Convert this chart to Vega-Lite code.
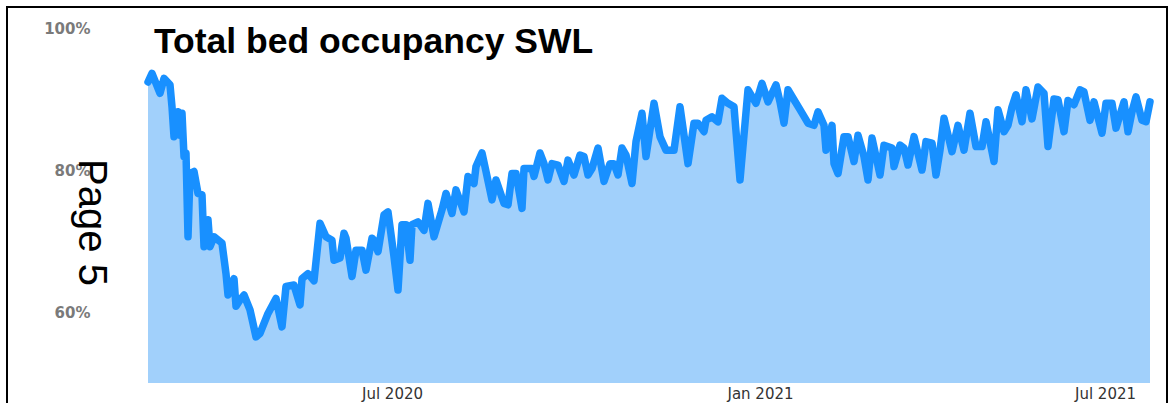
{
  "$schema": "https://vega.github.io/schema/vega-lite/v6.json",
  "width": 1160,
  "height": 406,
  "autosize": {"type": "none"},
  "padding": {"left": 7, "top": 7, "right": 3, "bottom": -10},
  "background": "white",
  "title": {"text": "Total bed occupancy SWL", "anchor": "start", "frame": "group", "dx": 147, "dy": 33, "offset": -48, "baseline": "alphabetic", "font": "Liberation Sans", "fontSize": 35.5, "fontWeight": "bold", "color": "#000000"},
  "config": {"view": {"stroke": "#000000", "strokeWidth": 2}},
  "data": {"values": [
    {"date": "2020-03-01", "pct": 92.4}, {"date": "2020-03-03", "pct": 93.6}, {"date": "2020-03-07", "pct": 90.8}, {"date": "2020-03-09", "pct": 92.9},
    {"date": "2020-03-12", "pct": 92.0}, {"date": "2020-03-13", "pct": 88.9}, {"date": "2020-03-14", "pct": 84.7}, {"date": "2020-03-16", "pct": 88.2},
    {"date": "2020-03-17", "pct": 84.9}, {"date": "2020-03-18", "pct": 88.0}, {"date": "2020-03-19", "pct": 81.9}, {"date": "2020-03-20", "pct": 82.4},
    {"date": "2020-03-21", "pct": 70.6}, {"date": "2020-03-22", "pct": 79.5}, {"date": "2020-03-24", "pct": 79.8}, {"date": "2020-03-26", "pct": 76.7},
    {"date": "2020-03-28", "pct": 76.5}, {"date": "2020-03-29", "pct": 69.2}, {"date": "2020-03-31", "pct": 73.0}, {"date": "2020-04-01", "pct": 69.2},
    {"date": "2020-04-03", "pct": 70.6}, {"date": "2020-04-07", "pct": 69.7}, {"date": "2020-04-09", "pct": 65.4}, {"date": "2020-04-10", "pct": 62.4},
    {"date": "2020-04-13", "pct": 64.7}, {"date": "2020-04-14", "pct": 60.8}, {"date": "2020-04-16", "pct": 61.7}, {"date": "2020-04-18", "pct": 62.4},
    {"date": "2020-04-21", "pct": 60.3}, {"date": "2020-04-24", "pct": 56.5}, {"date": "2020-04-26", "pct": 57.0}, {"date": "2020-04-30", "pct": 59.8},
    {"date": "2020-05-04", "pct": 61.9}, {"date": "2020-05-07", "pct": 57.9}, {"date": "2020-05-09", "pct": 63.6}, {"date": "2020-05-13", "pct": 63.8},
    {"date": "2020-05-16", "pct": 61.0}, {"date": "2020-05-17", "pct": 64.7}, {"date": "2020-05-20", "pct": 65.4}, {"date": "2020-05-23", "pct": 64.4},
    {"date": "2020-05-26", "pct": 72.5}, {"date": "2020-05-29", "pct": 70.6}, {"date": "2020-06-01", "pct": 70.1}, {"date": "2020-06-02", "pct": 67.3},
    {"date": "2020-06-05", "pct": 67.6}, {"date": "2020-06-07", "pct": 71.1}, {"date": "2020-06-08", "pct": 70.4}, {"date": "2020-06-11", "pct": 65.0},
    {"date": "2020-06-13", "pct": 68.7}, {"date": "2020-06-16", "pct": 68.7}, {"date": "2020-06-18", "pct": 65.9}, {"date": "2020-06-21", "pct": 70.4},
    {"date": "2020-06-22", "pct": 70.1}, {"date": "2020-06-24", "pct": 68.5}, {"date": "2020-06-27", "pct": 73.7}, {"date": "2020-06-29", "pct": 74.1},
    {"date": "2020-07-02", "pct": 67.8}, {"date": "2020-07-04", "pct": 63.1}, {"date": "2020-07-06", "pct": 72.3}, {"date": "2020-07-08", "pct": 72.3},
    {"date": "2020-07-10", "pct": 67.3}, {"date": "2020-07-11", "pct": 72.3}, {"date": "2020-07-14", "pct": 72.7}, {"date": "2020-07-17", "pct": 71.5},
    {"date": "2020-07-19", "pct": 75.3}, {"date": "2020-07-22", "pct": 70.6}, {"date": "2020-07-26", "pct": 74.4}, {"date": "2020-07-28", "pct": 76.7},
    {"date": "2020-07-31", "pct": 73.9}, {"date": "2020-08-02", "pct": 77.2}, {"date": "2020-08-06", "pct": 74.1}, {"date": "2020-08-08", "pct": 79.1},
    {"date": "2020-08-11", "pct": 78.1}, {"date": "2020-08-12", "pct": 80.5}, {"date": "2020-08-15", "pct": 82.4}, {"date": "2020-08-17", "pct": 79.8},
    {"date": "2020-08-20", "pct": 75.8}, {"date": "2020-08-22", "pct": 78.6}, {"date": "2020-08-26", "pct": 75.3}, {"date": "2020-08-28", "pct": 75.1},
    {"date": "2020-08-30", "pct": 79.5}, {"date": "2020-09-01", "pct": 79.5}, {"date": "2020-09-04", "pct": 74.6}, {"date": "2020-09-05", "pct": 80.2},
    {"date": "2020-09-09", "pct": 80.2}, {"date": "2020-09-10", "pct": 79.1}, {"date": "2020-09-13", "pct": 82.4}, {"date": "2020-09-15", "pct": 80.9},
    {"date": "2020-09-17", "pct": 78.6}, {"date": "2020-09-19", "pct": 80.9}, {"date": "2020-09-22", "pct": 80.7}, {"date": "2020-09-25", "pct": 78.4},
    {"date": "2020-09-27", "pct": 81.4}, {"date": "2020-09-30", "pct": 79.3}, {"date": "2020-10-03", "pct": 82.1}, {"date": "2020-10-05", "pct": 81.9},
    {"date": "2020-10-07", "pct": 79.3}, {"date": "2020-10-09", "pct": 80.2}, {"date": "2020-10-12", "pct": 83.1}, {"date": "2020-10-15", "pct": 78.4},
    {"date": "2020-10-18", "pct": 80.9}, {"date": "2020-10-20", "pct": 80.9}, {"date": "2020-10-22", "pct": 79.3}, {"date": "2020-10-24", "pct": 83.1},
    {"date": "2020-10-26", "pct": 82.1}, {"date": "2020-10-29", "pct": 78.1}, {"date": "2020-10-31", "pct": 84.0}, {"date": "2020-11-03", "pct": 88.0},
    {"date": "2020-11-05", "pct": 81.9}, {"date": "2020-11-09", "pct": 89.4}, {"date": "2020-11-12", "pct": 84.7}, {"date": "2020-11-15", "pct": 82.8},
    {"date": "2020-11-19", "pct": 82.8}, {"date": "2020-11-22", "pct": 88.9}, {"date": "2020-11-26", "pct": 80.9}, {"date": "2020-11-29", "pct": 86.6},
    {"date": "2020-12-01", "pct": 86.6}, {"date": "2020-12-04", "pct": 85.4}, {"date": "2020-12-05", "pct": 87.0}, {"date": "2020-12-08", "pct": 87.5},
    {"date": "2020-12-11", "pct": 86.8}, {"date": "2020-12-13", "pct": 90.1}, {"date": "2020-12-16", "pct": 89.4}, {"date": "2020-12-19", "pct": 88.9},
    {"date": "2020-12-22", "pct": 78.6}, {"date": "2020-12-26", "pct": 91.3}, {"date": "2020-12-30", "pct": 89.4}, {"date": "2021-01-02", "pct": 92.2},
    {"date": "2021-01-05", "pct": 89.6}, {"date": "2021-01-09", "pct": 92.0}, {"date": "2021-01-11", "pct": 89.6}, {"date": "2021-01-13", "pct": 86.6},
    {"date": "2021-01-15", "pct": 91.3}, {"date": "2021-01-18", "pct": 89.9}, {"date": "2021-01-21", "pct": 88.5}, {"date": "2021-01-25", "pct": 86.6},
    {"date": "2021-01-28", "pct": 86.3}, {"date": "2021-01-30", "pct": 88.2}, {"date": "2021-02-02", "pct": 86.3}, {"date": "2021-02-03", "pct": 82.8},
    {"date": "2021-02-06", "pct": 86.3}, {"date": "2021-02-07", "pct": 80.9}, {"date": "2021-02-09", "pct": 79.5}, {"date": "2021-02-12", "pct": 84.7},
    {"date": "2021-02-14", "pct": 84.7}, {"date": "2021-02-17", "pct": 81.2}, {"date": "2021-02-19", "pct": 84.9}, {"date": "2021-02-22", "pct": 81.9},
    {"date": "2021-02-24", "pct": 78.6}, {"date": "2021-02-26", "pct": 84.5}, {"date": "2021-03-02", "pct": 79.3}, {"date": "2021-03-04", "pct": 83.5},
    {"date": "2021-03-08", "pct": 83.1}, {"date": "2021-03-09", "pct": 80.5}, {"date": "2021-03-12", "pct": 83.5}, {"date": "2021-03-14", "pct": 83.1},
    {"date": "2021-03-16", "pct": 80.7}, {"date": "2021-03-19", "pct": 84.7}, {"date": "2021-03-23", "pct": 80.0}, {"date": "2021-03-25", "pct": 84.0},
    {"date": "2021-03-28", "pct": 83.8}, {"date": "2021-03-30", "pct": 79.3}, {"date": "2021-04-01", "pct": 82.8}, {"date": "2021-04-03", "pct": 87.3},
    {"date": "2021-04-07", "pct": 82.6}, {"date": "2021-04-10", "pct": 86.3}, {"date": "2021-04-13", "pct": 82.8}, {"date": "2021-04-16", "pct": 88.0},
    {"date": "2021-04-19", "pct": 83.3}, {"date": "2021-04-22", "pct": 83.3}, {"date": "2021-04-24", "pct": 86.8}, {"date": "2021-04-28", "pct": 81.2},
    {"date": "2021-04-30", "pct": 88.5}, {"date": "2021-05-03", "pct": 85.4}, {"date": "2021-05-05", "pct": 86.3}, {"date": "2021-05-07", "pct": 88.9},
    {"date": "2021-05-09", "pct": 90.6}, {"date": "2021-05-12", "pct": 86.8}, {"date": "2021-05-14", "pct": 91.3}, {"date": "2021-05-17", "pct": 87.2},
    {"date": "2021-05-20", "pct": 91.7}, {"date": "2021-05-23", "pct": 90.8}, {"date": "2021-05-25", "pct": 83.3}, {"date": "2021-05-28", "pct": 90.0},
    {"date": "2021-05-30", "pct": 89.9}, {"date": "2021-06-02", "pct": 85.4}, {"date": "2021-06-04", "pct": 89.8}, {"date": "2021-06-07", "pct": 89.2},
    {"date": "2021-06-10", "pct": 91.3}, {"date": "2021-06-12", "pct": 91.0}, {"date": "2021-06-15", "pct": 87.0}, {"date": "2021-06-17", "pct": 89.6},
    {"date": "2021-06-21", "pct": 85.2}, {"date": "2021-06-23", "pct": 89.4}, {"date": "2021-06-26", "pct": 89.4}, {"date": "2021-06-28", "pct": 85.9},
    {"date": "2021-07-02", "pct": 89.6}, {"date": "2021-07-04", "pct": 85.4}, {"date": "2021-07-06", "pct": 88.2}, {"date": "2021-07-08", "pct": 90.3},
    {"date": "2021-07-11", "pct": 87.0}, {"date": "2021-07-13", "pct": 86.8}, {"date": "2021-07-15", "pct": 89.6}
  ]},
  "encoding": {
    "x": {
      "field": "date", "type": "temporal",
      "scale": {"type": "utc", "domain": [{"year": 2019, "month": 12, "date": 21, "hours": 12, "utc": true}, {"year": 2021, "month": 7, "date": 23, "hours": 12, "utc": true}]},
      "axis": {
        "title": null,
        "values": [{"year": 2020, "month": 7, "date": 1, "utc": true}, {"year": 2021, "month": 1, "date": 1, "utc": true}, {"year": 2021, "month": 7, "date": 1, "utc": true}],
        "format": "%b %Y",
        "ticks": false, "domain": false, "grid": false,
        "labelPadding": 0, "offset": -27,
        "labelBaseline": "top",
        "labelFont": "DejaVu Sans", "labelFontSize": 15, "labelColor": "#333333",
        "labelOverlap": false, "labelBound": false, "labelFlush": false,
        "labelOffset": {"expr": "datum.value > 1620000000000 ? -17 : 0"}
      }
    }
  },
  "layer": [
    {
      "mark": {"type": "area", "color": "#a1d0fb", "opacity": 1},
      "encoding": {
        "y": {
          "field": "pct", "type": "quantitative",
          "scale": {"domain": [45.78, 102.96], "nice": false, "zero": false},
          "axis": {
            "values": [60, 80, 100],
            "labelExpr": "datum.value + '%'",
            "offset": -83, "ticks": false, "domain": false, "grid": false,
            "labelPadding": 0, "labelBaseline": "middle",
            "labelFont": "DejaVu Sans", "labelFontSize": 15, "labelFontWeight": "bold", "labelColor": "#7a7a7a",
            "title": "Page 5", "titleAngle": 90, "titleX": -12, "titleY": 215,
            "titleAlign": "center", "titleBaseline": "alphabetic",
            "titleFont": "Liberation Sans", "titleFontSize": 40, "titleFontWeight": "normal", "titleColor": "#000000"
          }
        },
        "y2": {"datum": 50}
      }
    },
    {
      "mark": {"type": "line", "color": "#1890ff", "strokeWidth": 7.5, "strokeJoin": "round", "strokeCap": "round"},
      "encoding": {
        "y": {"field": "pct", "type": "quantitative"}
      }
    }
  ]
}
